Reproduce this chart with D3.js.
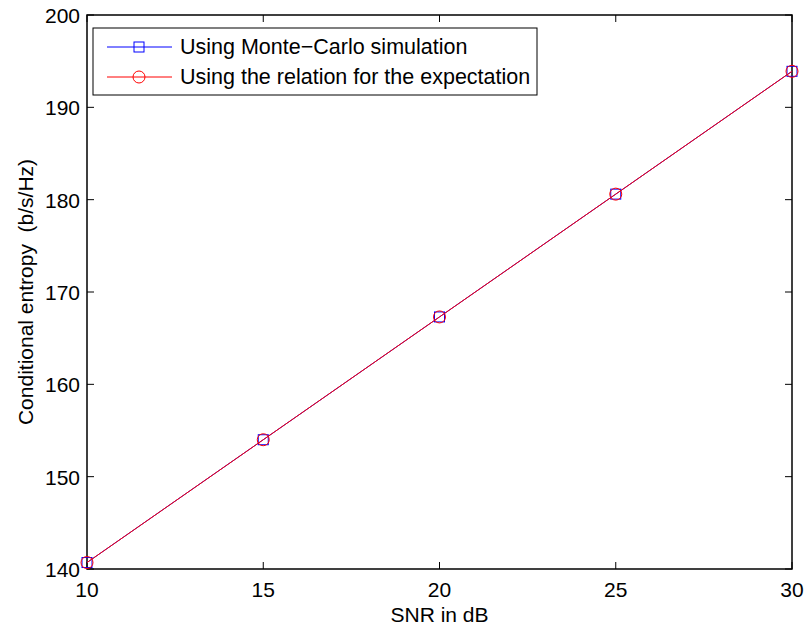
<!DOCTYPE html>
<html>
<head>
<meta charset="utf-8">
<script src="https://cdn.jsdelivr.net/npm/d3@7"></script>
<style>
  body { margin: 0; background: #fff; }
  text { font-family: "Liberation Sans", Arial, sans-serif; fill: #000; }
</style>
</head>
<body>
<div id="wrapper"></div>
<script>
const snr = [10, 15, 20, 25, 30]
const monteCarlo = [140.7, 154.0, 167.3, 180.6, 193.9]
const expectation = [140.7, 154.0, 167.3, 180.6, 193.9]
const xTicks = [10, 15, 20, 25, 30]
const yTicks = [140, 150, 160, 170, 180, 190, 200]
const seriesNames = ["Using Monte\u2212Carlo simulation", "Using the relation for the expectation"]

const width = 808, height = 631
const margin = { top: 15, right: 16, bottom: 62, left: 87 }
const innerW = width - margin.left - margin.right
const innerH = height - margin.top - margin.bottom
const fontSize = 21

const svg = d3.select("#wrapper").append("svg")
  .attr("width", width)
  .attr("height", height)

const bounds = svg.append("g")
  .attr("transform", `translate(${margin.left},${margin.top})`)

const x = d3.scaleLinear().domain([10, 30]).range([0, innerW])
const y = d3.scaleLinear().domain([140, 200]).range([innerH, 0])

// ticks (inside, mirrored on top and right)
const tickLen = 7
const ticks = bounds.append("g").attr("stroke", "#000").attr("stroke-width", 1)
xTicks.forEach(t => {
  ticks.append("line").attr("x1", x(t)).attr("x2", x(t)).attr("y1", innerH).attr("y2", innerH - tickLen)
  ticks.append("line").attr("x1", x(t)).attr("x2", x(t)).attr("y1", 0).attr("y2", tickLen)
})
yTicks.forEach(t => {
  ticks.append("line").attr("x1", 0).attr("x2", tickLen).attr("y1", y(t)).attr("y2", y(t))
  ticks.append("line").attr("x1", innerW).attr("x2", innerW - tickLen).attr("y1", y(t)).attr("y2", y(t))
})

bounds.append("rect")
  .attr("width", innerW).attr("height", innerH)
  .attr("fill", "none").attr("stroke", "#000").attr("stroke-width", 1.5)

bounds.selectAll(".xl").data(xTicks).join("text")
  .attr("x", d => x(d)).attr("y", innerH + 28)
  .attr("text-anchor", "middle").attr("font-size", fontSize)
  .text(d => d)

bounds.selectAll(".yl").data(yTicks).join("text")
  .attr("x", -7).attr("y", d => y(d) + 8)
  .attr("text-anchor", "end").attr("font-size", fontSize)
  .text(d => d)

svg.append("text")
  .attr("x", margin.left + innerW / 2).attr("y", 622)
  .attr("text-anchor", "middle").attr("font-size", fontSize)
  .text("SNR in dB")

svg.append("text")
  .attr("transform", `translate(33,${margin.top + innerH / 2}) rotate(-90)`)
  .attr("text-anchor", "middle").attr("font-size", fontSize)
  .attr("xml:space", "preserve")
  .text("Conditional entropy  (b/s/Hz)")

// data
const line = d3.line().x((d, i) => x(snr[i])).y(d => y(d))

bounds.append("path").datum(monteCarlo)
  .attr("d", line).attr("fill", "none").attr("stroke", "#0000ff").attr("stroke-width", 1)
bounds.selectAll(".sq").data(monteCarlo).join("rect")
  .attr("x", (d, i) => x(snr[i]) - 5).attr("y", d => y(d) - 5)
  .attr("width", 10).attr("height", 10)
  .attr("fill", "none").attr("stroke", "#0000ff").attr("stroke-width", 1)

bounds.append("path").datum(expectation)
  .attr("d", line).attr("fill", "none").attr("stroke", "#ff0000").attr("stroke-width", 1)
bounds.selectAll(".ci").data(expectation).join("circle")
  .attr("cx", (d, i) => x(snr[i])).attr("cy", d => y(d)).attr("r", 6)
  .attr("fill", "none").attr("stroke", "#ff0000").attr("stroke-width", 1)

// legend
const legend = svg.append("g").attr("transform", "translate(93,28)")
legend.append("rect").attr("width", 444).attr("height", 67)
  .attr("fill", "#fff").attr("stroke", "#000").attr("stroke-width", 1)
const colors = ["#0000ff", "#ff0000"]
seriesNames.forEach((name, i) => {
  const ly = 19 + i * 30
  legend.append("line").attr("x1", 14).attr("x2", 79).attr("y1", ly).attr("y2", ly)
    .attr("stroke", colors[i]).attr("stroke-width", 1)
  if (i === 0) {
    legend.append("rect").attr("x", 41).attr("y", ly - 5).attr("width", 10).attr("height", 10)
      .attr("fill", "none").attr("stroke", colors[i])
  } else {
    legend.append("circle").attr("cx", 46).attr("cy", ly).attr("r", 6)
      .attr("fill", "none").attr("stroke", colors[i])
  }
  legend.append("text").attr("x", 87).attr("y", ly + 7).attr("font-size", 21.5).text(name)
})
</script>
</body>
</html>
